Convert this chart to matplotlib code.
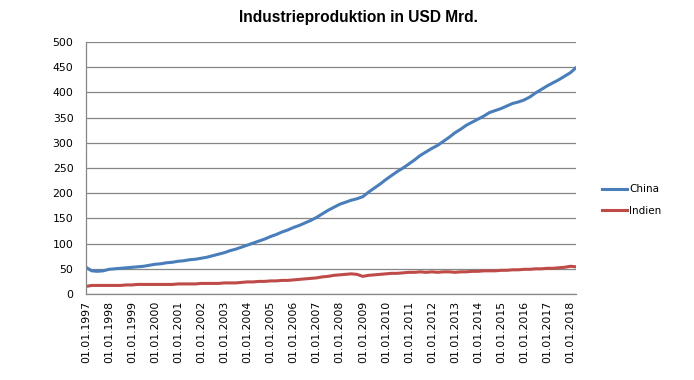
import matplotlib
matplotlib.use("Agg")
import matplotlib.pyplot as plt
import matplotlib.dates as mdates
import pandas as pd

# quarterly values (Jan, Apr, Jul, Oct), 1997 - Apr 2018
china = [53, 46, 45, 46,
         49, 50, 51, 52,
         53, 54, 55, 57,
         59, 60, 62, 63,
         65, 66, 68, 69,
         71, 73, 76, 79,
         82, 86, 89, 93,
         97, 101, 105, 109,
         114, 118, 123, 127,
         132, 136, 141, 146,
         152, 159, 166, 172,
         178, 182, 186, 189,
         193, 202, 210, 218,
         227, 235, 243, 250,
         258, 266, 275, 282,
         289, 295, 303, 311,
         320, 327, 335, 341,
         347, 353, 360, 364,
         368, 373, 378, 381,
         385, 391, 399, 406,
         413, 419, 425, 432,
         439, 449]
indien = [15, 17, 17, 17,
          17, 17, 17, 18,
          18, 19, 19, 19,
          19, 19, 19, 19,
          20, 20, 20, 20,
          21, 21, 21, 21,
          22, 22, 22, 23,
          24, 24, 25, 25,
          26, 26, 27, 27,
          28, 29, 30, 31,
          32, 34, 35, 37,
          38, 39, 40, 39,
          35, 37, 38, 39,
          40, 41, 41, 42,
          43, 43, 44, 43,
          44, 43, 44, 44,
          43, 44, 44, 45,
          45, 46, 46, 46,
          47, 47, 48, 48,
          49, 49, 50, 50,
          51, 51, 52, 53,
          55, 54]
dates = pd.date_range("1997-01-01", periods=len(china), freq="QS")
years = list(range(1997, 2019))

fig = plt.figure(figsize=(6.94, 3.80), dpi=100)
ax = fig.add_axes([0.1239, 0.2263, 0.7061, 0.6632])

ax.plot(dates, china, color="#4A7EBB", lw=2.2, label="China")
ax.plot(dates, indien, color="#BE4B48", lw=2.2, label="Indien")

ax.set_ylim(0, 500)
ax.set_yticks(range(0, 501, 50))
ax.set_xlim(dates[0], dates[-1])
ax.set_xticks([pd.Timestamp(f"{y}-01-01") for y in years])
ax.xaxis.set_major_formatter(mdates.DateFormatter("%d.%m.%Y"))
plt.setp(ax.get_xticklabels(), rotation=90)
ax.tick_params(axis="both", length=0, labelsize=7.8, colors="black")
ax.tick_params(axis="y", pad=9)
ax.tick_params(axis="x", pad=5)

ax.grid(axis="y", color="#868686", lw=0.9)
ax.set_axisbelow(True)
for s in ["top", "right"]:
    ax.spines[s].set_visible(False)
for s in ["left", "bottom"]:
    ax.spines[s].set_color("#868686")
    ax.spines[s].set_linewidth(0.9)

ax.legend(loc="center left", bbox_to_anchor=(1.043, 0.373), frameon=False,
          fontsize=7.5, handlelength=2.4, handletextpad=0.2, borderpad=0,
          labelspacing=1.1)

fig.text(0.516, 0.955, "Industrieproduktion in USD Mrd.", ha="center", va="center",
         fontsize=11.2, fontweight="bold", family="Liberation Sans")

fig.savefig("out.png", dpi=100)
